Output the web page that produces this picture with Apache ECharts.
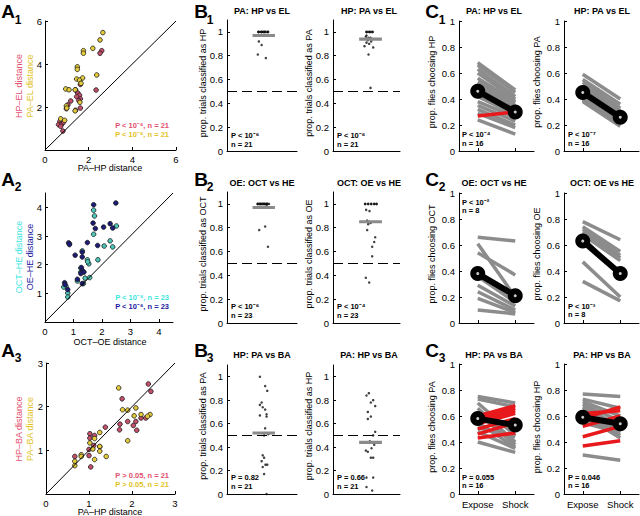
<!DOCTYPE html>
<html><head><meta charset="utf-8">
<script src="https://cdn.jsdelivr.net/npm/echarts@6/dist/echarts.min.js"></script>
<style>html,body{margin:0;padding:0;background:#fff}#c{width:640px;height:516px}</style>
</head><body><div id="c"></div>
<script>
// ---------------- DATA ----------------
// Panel A1: x = PA–HP distance, y = HP–EL (red) / PA–EL (yellow)
const a1HpEl = [[2.60,4.62],[2.52,4.50],[2.34,2.79],[1.62,3.05],[1.50,2.65],[1.58,2.55],[1.45,2.48],[1.62,2.38],[1.55,2.30],[1.18,2.28],[1.05,2.10],[0.98,1.92],[1.62,1.95],[0.68,1.32],[0.62,1.18],[0.78,1.22],[0.85,1.30],[0.72,1.10],[0.82,0.88],[1.40,2.80],[1.40,1.85]];
const a1PaEl = [[2.65,5.46],[2.52,5.12],[2.19,4.73],[1.76,4.62],[1.76,4.50],[1.48,3.87],[1.48,3.75],[2.37,3.49],[1.72,3.35],[1.45,3.30],[1.58,3.25],[1.65,3.10],[0.95,2.84],[1.10,2.80],[1.38,2.80],[1.60,2.22],[0.98,2.05],[1.00,1.95],[1.38,1.82],[0.72,1.45],[0.90,1.38]];
// Panel A2: x = OCT–OE distance, y = OCT–HE (cyan) / OE–HE (navy)
const a2OctHe = [[1.71,3.90],[1.74,3.70],[2.51,3.35],[1.71,3.06],[2.29,2.83],[2.38,2.62],[2.08,2.65],[0.86,2.73],[1.31,2.48],[1.49,2.17],[1.54,2.03],[1.86,2.17],[1.26,1.88],[1.26,1.74],[1.14,1.43],[0.74,1.24],[0.80,1.01],[0.80,0.87],[0.66,1.22],[1.41,1.53],[1.35,1.34],[1.57,1.55],[1.50,2.10]];
const a2OeHe = [[1.71,4.09],[2.49,4.15],[1.69,3.45],[1.77,3.26],[2.06,3.31],[2.29,3.43],[2.38,3.28],[0.83,2.76],[0.86,2.70],[1.49,2.77],[1.85,2.67],[1.06,2.33],[1.31,2.44],[1.31,2.27],[1.28,1.90],[1.31,1.80],[1.26,1.69],[1.37,1.74],[1.14,1.49],[0.69,1.37],[0.71,1.30],[0.80,1.13],[1.31,1.34]];
// Panel A3: x = PA–HP distance, y = HP–BA (red) / PA–BA (yellow)
const a3HpBa = [[2.38,2.52],[2.44,2.35],[1.77,2.18],[2.09,1.66],[2.11,1.46],[1.90,1.66],[1.72,1.60],[1.71,1.47],[2.03,1.57],[1.38,1.53],[1.02,1.38],[1.13,1.34],[1.02,1.28],[1.11,1.11],[1.00,1.02],[1.00,0.88],[1.04,0.62],[0.67,0.86],[2.21,1.74],[2.32,1.74],[1.25,1.08]];
const a3PaBa = [[1.69,2.43],[1.90,1.92],[2.09,1.97],[1.78,1.93],[2.21,1.82],[2.05,1.79],[2.42,1.82],[2.36,1.78],[1.90,1.22],[1.25,1.41],[1.25,1.09],[1.02,1.17],[1.25,0.98],[1.40,0.86],[1.13,0.79],[0.82,0.90],[0.82,0.86],[0.67,0.75],[0.67,0.65],[1.09,1.03],[1.13,1.27]];
const aXNames = ['PA–HP distance','OCT–OE distance','PA–HP distance'];
const aYNames = [['HP–EL distance','PA–EL distance'],['OCT–HE distance','OE–HE distance'],['HP–BA distance','PA–BA distance']];
const aStats = [['P < 10⁻⁶, n = 21','P < 10⁻⁶, n = 21'],['P < 10⁻⁶, n = 23','P < 10⁻⁶, n = 23'],['P > 0.05, n = 21','P > 0.05, n = 21']];

// Panels B: [jittered x, proportion]
const b1Left = [[0.90,1],[0.99,1],[1.08,1],[1.17,1],[0.90,1],[0.99,1],[1.08,1],[1.17,1],[0.90,1],[0.99,1],[1.08,1],[1.17,1],[0.95,1],[1.04,1],[1.13,1],[1.04,1],[1.17,0.97],[0.91,0.92],[0.99,0.89],[0.88,0.81],[1.11,0.78]];
const b1Right = [[1.00,1],[1.09,1],[1.18,1],[1.00,1],[1.09,1],[1.18,1],[1.04,1],[1.13,1],[1.00,0.97],[0.98,0.96],[1.06,0.95],[1.12,0.95],[1.18,0.94],[1.04,0.93],[1.14,0.92],[1.00,0.91],[1.08,0.90],[0.94,0.88],[1.20,0.87],[1.06,0.81],[1.12,0.53]];
const b2Left = [[0.88,1],[0.97,1],[1.06,1],[1.15,1],[0.88,1],[0.97,1],[1.06,1],[1.15,1],[0.88,1],[0.97,1],[1.06,1],[1.15,1],[0.93,1],[1.02,1],[1.11,1],[0.93,1],[1.02,1],[1.11,1],[1.20,1],[1.13,0.98],[1.09,0.81],[0.92,0.78],[1.17,0.64]];
const b2Right = [[0.96,1],[1.05,1],[1.14,1],[1.23,1],[1.30,1],[0.96,1],[1.05,1],[1.14,1],[1.23,1],[1.30,1],[0.99,0.95],[1.09,0.94],[1.02,0.86],[1.08,0.85],[1.12,0.84],[1.05,0.83],[1.02,0.78],[1.26,0.72],[1.23,0.68],[1.17,0.64],[1.17,0.56],[0.98,0.38],[1.08,0.34]];
const b3Left = [[0.94,1.0],[1.09,0.92],[1.15,0.88],[0.99,0.78],[0.94,0.76],[1.02,0.74],[1.09,0.72],[1.13,0.68],[0.94,0.67],[1.13,0.66],[1.09,0.56],[1.18,0.51],[1.06,0.50],[1.02,0.33],[1.06,0.31],[0.99,0.28],[1.10,0.25],[1.15,0.25],[1.02,0.23],[1.06,0.17],[1.13,0.0]];
const b3Right = [[1.07,0.86],[1.00,0.84],[1.20,0.80],[1.13,0.78],[1.26,0.75],[1.04,0.70],[1.13,0.66],[1.04,0.64],[1.26,0.53],[1.20,0.50],[1.10,0.45],[1.23,0.42],[0.98,0.37],[1.04,0.36],[1.13,0.31],[1.20,0.31],[1.00,0.14],[1.20,0.14],[1.00,0.06],[1.17,0.03],[1.15,0.39]];
const bMeans = [[0.97,0.94],[0.97,0.85],[0.52,0.44]];
const bChance = 0.5;
const titles = [['PA: HP vs EL','HP: PA vs EL'],['OE: OCT vs HE','OCT: OE vs HE'],['HP: PA vs BA','PA: HP vs BA']];
const bYNames = [['prop. trials classified as HP','prop. trials classified as PA'],['prop. trials classified as OCT','prop. trials classified as OE'],['prop. trials classified as PA','prop. trials classified as HP']];
const bStats = [[['P < 10⁻⁶','n = 21'],['P < 10⁻⁶','n = 21']],[['P < 10⁻⁶','n = 23'],['P < 10⁻⁴','n = 23']],[['P = 0.82','n = 21'],['P = 0.66','n = 21']]];

// Panels C: [Expose, Shock] per fly; gray = decrease, red = increase
const cCategories = ['Expose','Shock'];
const c1LeftGray = [[0.68,0.47],[0.66,0.45],[0.63,0.42],[0.60,0.40],[0.56,0.38],[0.53,0.37],[0.50,0.35],[0.48,0.33],[0.45,0.30],[0.42,0.28],[0.38,0.26],[0.35,0.23],[0.32,0.20],[0.29,0.18],[0.24,0.13]];
const c1LeftRed = [[0.27,0.30]];
const c1RightGray = [[0.59,0.40],[0.55,0.36],[0.53,0.33],[0.51,0.31],[0.50,0.30],[0.48,0.29],[0.47,0.28],[0.46,0.27],[0.45,0.26],[0.44,0.25],[0.43,0.24],[0.42,0.23],[0.41,0.22],[0.40,0.21],[0.39,0.20],[0.38,0.19]];
const c1RightRed = [];
const c2LeftGray = [[0.66,0.63],[0.61,0.20],[0.54,0.37],[0.36,0.16],[0.29,0.13],[0.24,0.10],[0.19,0.08],[0.10,0.07]];
const c2LeftRed = [];
const c2RightGray = [[0.78,0.64],[0.74,0.55],[0.72,0.52],[0.70,0.50],[0.68,0.48],[0.66,0.36],[0.47,0.20],[0.32,0.17]];
const c2RightRed = [];
const c3LeftGray = [[0.75,0.70],[0.73,0.67],[0.70,0.45],[0.66,0.40],[0.62,0.38],[0.55,0.36],[0.51,0.44],[0.48,0.35],[0.40,0.32]];
const c3LeftRed = [[0.60,0.68],[0.58,0.66],[0.56,0.64],[0.54,0.62],[0.50,0.58],[0.46,0.55],[0.43,0.47]];
const c3RightGray = [[0.77,0.75],[0.73,0.66],[0.71,0.60],[0.69,0.56],[0.67,0.52],[0.65,0.48],[0.63,0.45],[0.61,0.43],[0.57,0.51],[0.55,0.47],[0.30,0.26]];
const c3RightRed = [[0.58,0.67],[0.62,0.64],[0.52,0.60],[0.44,0.52],[0.37,0.41]];
const cMeans = [[[0.46,0.30],[0.45,0.26]],[[0.38,0.21],[0.63,0.38]],[[0.58,0.53],[0.59,0.54]]];
const cYNames = [['prop. flies choosing HP','prop. flies choosing PA'],['prop. flies choosing OCT','prop. flies choosing OE'],['prop. flies choosing PA','prop. flies choosing HP']];
const cStats = [[['P < 10⁻⁴','n = 16'],['P < 10⁻⁷','n = 16']],[['P < 10⁻²','n = 8'],['P < 10⁻³','n = 8']],[['P = 0.055','n = 16'],['P = 0.046','n = 16']]];
const panelLetters = ['A','B','C'];

// ---------------- BUILD ----------------
const FONT = '"Liberation Sans", Arial, Helvetica, sans-serif';
const grids = [], xAxis = [], yAxis = [], series = [], graphic = [];

function axis(o){
  const lab = Object.assign({show:true,color:'#000',fontSize:9.5,fontFamily:FONT,margin:3}, o.label||{});
  const tick = Object.assign({show:true,inside:true,length:3,lineStyle:{color:'#000',width:1}}, o.tick||{});
  const a = Object.assign({
    axisLine:{show:true,onZero:false,lineStyle:{color:'#000',width:1}},
    splitLine:{show:false}
  }, o);
  delete a.label; delete a.tick;
  a.axisLabel = lab; a.axisTick = tick;
  return a;
}
function addGrid(l,t,w,h,xa,ya){
  const i = grids.length;
  grids.push({left:l,top:t,width:w,height:h});
  xa.gridIndex = i; ya.gridIndex = i;
  xAxis.push(xa); yAxis.push(ya);
  return i;
}
function txt(x,y,text,o){
  o = o||{};
  graphic.push({type:'text',x:x,y:y,rotation:o.rot||0,silent:true,z:100,
    style:{text:text,fill:o.color||'#000',font:(o.bold?'bold ':'')+(o.size||9)+'px '+FONT,
      align:o.align||'center',verticalAlign:o.va||'middle'}});
}

// ---- A panels ----
const aBoxes = [[45,21,131,129],[45,193,128,129],[46,363,129,131]];
const aMax = [6,4.5,3], aInt = [2,1,1];
const aData = [[a1HpEl,a1PaEl],[a2OctHe,a2OeHe],[a3HpBa,a3PaBa]];
const aFill = [['#c4506c','#e4cc3c'],['#4cc8b8','#1c1c78'],['#c4506c','#e4cc3c']];
const aText = [['#e2506e','#e2c21e'],['#3ee6e0','#1a1aa0'],['#e2506e','#e2c21e']];
const aXNameY = [168,342,512];
const aYNameY = [86,257,429];
const aStatY = [[125,134],[297,306],[475,484]];
for (let r=0;r<3;r++){
  const b = aBoxes[r];
  const gi = addGrid(b[0],b[1],b[2],b[3],
    axis({type:'value',min:0,max:aMax[r],interval:aInt[r],label:{margin:4,showMaxLabel:aMax[r]%aInt[r]===0}}),
    axis({type:'value',min:0,max:aMax[r],interval:aInt[r],label:{margin:3,showMinLabel:false,showMaxLabel:aMax[r]%aInt[r]===0}}));
  series.push({type:'line',xAxisIndex:gi,yAxisIndex:gi,data:[[0,0],[aMax[r],aMax[r]]],symbol:'none',
    lineStyle:{color:'#000',width:1},silent:true});
  for (let k=0;k<2;k++){
    series.push({type:'scatter',xAxisIndex:gi,yAxisIndex:gi,data:aData[r][k],symbol:'circle',symbolSize:4.6,
      itemStyle:{color:aFill[r][k],borderColor:'#1a1a1a',borderWidth:0.8,opacity:1},silent:true});
  }
  txt(110,aXNameY[r],aXNames[r],{size:9});
  txt(19,aYNameY[r],aYNames[r][0],{size:9,rot:Math.PI/2,color:aText[r][0]});
  txt(30,aYNameY[r],aYNames[r][1],{size:9,rot:Math.PI/2,color:aText[r][1]});
  txt(169,aStatY[r][0],aStats[r][0],{size:7.5,bold:true,align:'right',color:aText[r][0]});
  txt(169,aStatY[r][1],aStats[r][1],{size:7.5,bold:true,align:'right',color:aText[r][1]});
}

// ---- B panels ----
const bTop = [20,192,365], bH = [131,131,129], bLeft = [227,333], bW = [70,67];
const bData = [[b1Left,b1Right],[b2Left,b2Right],[b3Left,b3Right]];
const bBar = [[0.73,1.37],[0.78,1.46]];
const titleY = [11,183,355];
const bTitleX = [262,369], bNameX = [203,309], bNameY = [83,254,426];
const bStatX = [231,337], bStatY = [[135,144],[306,315],[477,486]];
for (let r=0;r<3;r++){
  for (let c=0;c<2;c++){
    const gi = addGrid(bLeft[c],bTop[r],bW[c],bH[r],
      axis({type:'value',min:0,max:2,label:{show:false},tick:{show:false}}),
      axis({type:'value',min:0,max:1.1,interval:0.2,label:{margin:4,showMaxLabel:false}}));
    series.push({type:'line',xAxisIndex:gi,yAxisIndex:gi,data:[[bBar[c][0],bMeans[r][c]],[bBar[c][1],bMeans[r][c]]],
      symbol:'none',lineStyle:{color:'#8a8a8a',width:3.2,cap:'butt'},silent:true});
    series.push({type:'scatter',xAxisIndex:gi,yAxisIndex:gi,data:bData[r][c],symbol:'circle',symbolSize:2.5,
      itemStyle:{color:'#111'},silent:true,
      markLine:{silent:true,symbol:['none','none'],label:{show:false},
        lineStyle:{color:'#000',width:1,type:[10,5]},data:[{yAxis:bChance}]}});
    txt(bTitleX[c],titleY[r],titles[r][c],{size:9,bold:true});
    txt(bNameX[c],bNameY[r],bYNames[r][c],{size:9,rot:Math.PI/2});
    txt(bStatX[c],bStatY[r][0],bStats[r][c][0],{size:7.5,bold:true,align:'left'});
    txt(bStatX[c],bStatY[r][1],bStats[r][c][1],{size:7.5,bold:true,align:'left'});
  }
}

// ---- C panels ----
const cTop = [21,193,364], cH = 130, cLeft = [459,564], cW = 75;
const cGray = [[c1LeftGray,c1RightGray],[c2LeftGray,c2RightGray],[c3LeftGray,c3RightGray]];
const cRed = [[c1LeftRed,c1RightRed],[c2LeftRed,c2RightRed],[c3LeftRed,c3RightRed]];
const cTitleX = [494,602], cNameX = [432,537], cNameY = [82,254,427];
const cStatX = [462,568];
const cStatY = [[[134,143],[134,143]],[[202,210],[306,314]],[[477,485],[477,485]]];
for (let r=0;r<3;r++){
  for (let c=0;c<2;c++){
    const gi = addGrid(cLeft[c],cTop[r],cW,cH,
      axis({type:'category',data:cCategories,boundaryGap:true,
        label:{show:r===2,interval:0,margin:5,fontSize:9.5},tick:{alignWithLabel:true,interval:0}}),
      axis({type:'value',min:0,max:1,interval:0.2,label:{margin:4}}));
    const lines = [];
    cGray[r][c].forEach(p=>lines.push({p:p,col:'#8c8c8c'}));
    cRed[r][c].forEach(p=>lines.push({p:p,col:'#e8191c'}));
    if (r===2) lines.sort((a,b)=>b.p[0]-a.p[0]);
    lines.forEach(L=>{
      series.push({type:'line',xAxisIndex:gi,yAxisIndex:gi,data:L.p,symbol:'none',
        lineStyle:{color:L.col,width:3.5,cap:'butt'},silent:true});
    });
    series.push({type:'line',xAxisIndex:gi,yAxisIndex:gi,data:cMeans[r][c],symbol:'circle',symbolSize:15,
      lineStyle:{color:'#000',width:6},itemStyle:{color:'#000'},silent:true,z:5});
    series.push({type:'scatter',xAxisIndex:gi,yAxisIndex:gi,data:cMeans[r][c],symbol:'circle',symbolSize:3,
      itemStyle:{color:'#fff'},silent:true,z:6});
    txt(cTitleX[c],titleY[r],titles[r][c],{size:9,bold:true});
    txt(cNameX[c],cNameY[r],cYNames[r][c],{size:9,rot:Math.PI/2});
    txt(cStatX[c],cStatY[r][c][0],cStats[r][c][0],{size:7.5,bold:true,align:'left'});
    txt(cStatX[c],cStatY[r][c][1],cStats[r][c][1],{size:7.5,bold:true,align:'left'});
  }
}

// ---- panel letters ----
const letterX = [8,201,432], subX = [18,210,442];
const letterY = [11,179,350], subY = [20,187,358];
for (let r=0;r<3;r++){
  for (let c=0;c<3;c++){
    txt(letterX[c],letterY[r],panelLetters[c],{size:19,bold:true});
    txt(subX[c],subY[r],String(r+1),{size:12,bold:true});
  }
}

const chart = echarts.init(document.getElementById('c'),null,{renderer:'svg'});
chart.setOption({animation:false,backgroundColor:'#fff',grid:grids,xAxis:xAxis,yAxis:yAxis,series:series,graphic:graphic});
</script></body></html>
